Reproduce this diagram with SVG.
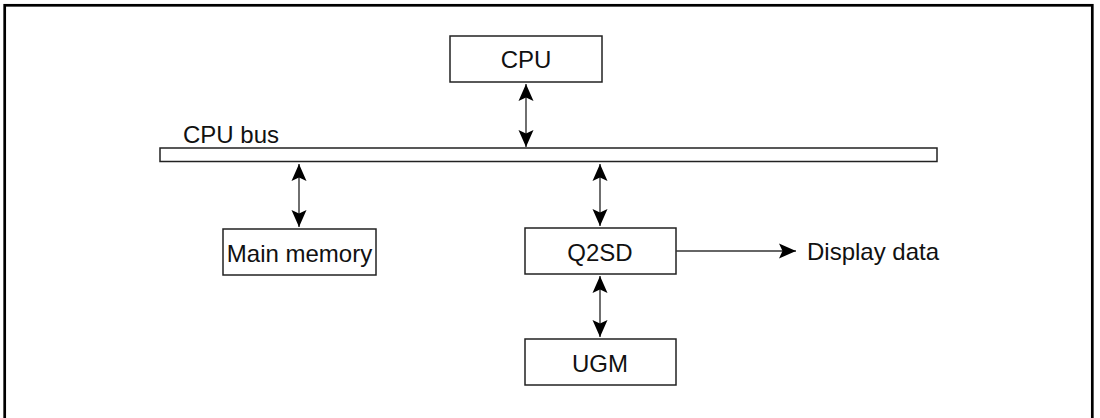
<svg xmlns="http://www.w3.org/2000/svg" width="1100" height="418" viewBox="0 0 1100 418">
<style>
.box{fill:#fff;stroke:#222;stroke-width:1.5}
.lbl{font-family:"Liberation Sans",Arial,sans-serif;font-size:24px;fill:#111}
.c{text-anchor:middle}
.conn{stroke:#333;stroke-width:1.4;fill:none}
</style>
<defs>
<marker id="ah" markerUnits="userSpaceOnUse" markerWidth="18" markerHeight="16" refX="17" refY="7.5" orient="auto-start-reverse" viewBox="0 0 18 15">
<path d="M17,7.5 L0,0 L3.5,7.5 L0,15 Z" fill="#000"/>
</marker>
</defs>
<rect x="0" y="0" width="1100" height="418" fill="#fff"/>
<rect id="frame" x="4.7" y="5.3" width="1087.6" height="425" fill="none" stroke="#000" stroke-width="2.7"/>
<g id="cpu"><rect class="box" x="450" y="36" width="152" height="46"/><text class="lbl c" x="526" y="67.5">CPU</text></g>
<g id="bus"><rect class="box" x="160" y="148" width="777" height="13.5"/><text class="lbl" x="183" y="142.5">CPU bus</text></g>
<g id="mainmem"><rect class="box" x="223" y="229" width="153" height="46"/><text class="lbl c" x="299.5" y="261.5">Main memory</text></g>
<g id="q2sd"><rect class="box" x="525" y="228" width="151" height="46"/><text class="lbl c" x="600" y="260.5">Q2SD</text></g>
<g id="ugm"><rect class="box" x="525" y="339" width="151" height="46"/><text class="lbl c" x="600" y="371.5">UGM</text></g>
<g id="display"><text class="lbl" x="807" y="260">Display data</text></g>
<g id="connectors">
<line class="conn" x1="526" y1="84" x2="526" y2="147" marker-start="url(#ah)" marker-end="url(#ah)"/>
<line class="conn" x1="299" y1="164" x2="299" y2="227" marker-start="url(#ah)" marker-end="url(#ah)"/>
<line class="conn" x1="600" y1="164" x2="600" y2="226" marker-start="url(#ah)" marker-end="url(#ah)"/>
<line class="conn" x1="600" y1="276" x2="600" y2="337" marker-start="url(#ah)" marker-end="url(#ah)"/>
<line class="conn" x1="676" y1="251" x2="796" y2="251" marker-end="url(#ah)"/>
</g>
</svg>
